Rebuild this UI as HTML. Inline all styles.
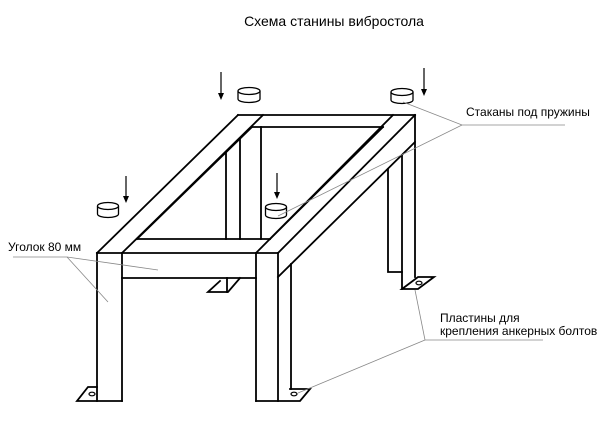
<!DOCTYPE html>
<html><head><meta charset="utf-8"><style>
html,body{margin:0;padding:0;background:#fff;}
svg{display:block;}
text{font-family:"Liberation Sans",Arial,sans-serif;fill:#000;}
</style></head><body>
<svg width="610" height="421" viewBox="0 0 610 421" xmlns="http://www.w3.org/2000/svg">
<text x="334" y="26" font-size="14" text-anchor="middle">Схема станины вибростола</text>

<g stroke="#000" stroke-width="1.8" fill="none" stroke-linecap="square">
<!-- top frame -->
<line x1="238" y1="115" x2="415" y2="115"/>
<line x1="252" y1="127" x2="383" y2="127"/>
<line x1="238" y1="115" x2="97" y2="253"/>
<line x1="263" y1="115" x2="122" y2="253"/>
<line x1="252" y1="127" x2="137" y2="239"/>
<line x1="415" y1="115" x2="278" y2="253"/>
<line x1="393" y1="115" x2="256" y2="253"/>
<line x1="383" y1="127" x2="270" y2="239"/>
<line x1="137" y1="239" x2="270" y2="239"/>
<line x1="97" y1="253" x2="278" y2="253"/>
<line x1="122" y1="278" x2="256" y2="278"/>
<polyline points="415,115 415,142 278,277"/>
<!-- front left post -->
<line x1="97" y1="253" x2="97" y2="401"/>
<line x1="122" y1="253" x2="122" y2="401"/>
<polyline points="97,387 88,387 77,401 122,401"/>
<!-- front right post -->
<line x1="256" y1="253" x2="256" y2="401"/>
<line x1="278" y1="253" x2="278" y2="401"/>
<line x1="291" y1="264" x2="291" y2="389"/>
<polyline points="256,401 300,401 310,389 290,389"/>
<!-- back right posts -->
<line x1="415" y1="142" x2="415" y2="277"/>
<line x1="402" y1="155" x2="402" y2="289"/>
<polyline points="388,169 388,272 402,272"/>
<polygon points="402,289 418,277 434,277 418,289"/>
<!-- back left post -->
<line x1="226" y1="152" x2="226" y2="239"/>
<line x1="240" y1="139" x2="240" y2="239"/>
<line x1="261" y1="127" x2="261" y2="239"/>
<line x1="227" y1="278" x2="227" y2="292"/>
<polyline points="240,278 228,292 208,292 220,281"/>
</g>
<g stroke="#000" stroke-width="1.2" fill="none">
<ellipse cx="92" cy="394" rx="3" ry="1.8"/>
<ellipse cx="294" cy="394" rx="3" ry="1.8"/>
<ellipse cx="419" cy="283" rx="3" ry="1.8"/>
</g>

<!-- cups -->
<g stroke="#000" stroke-width="1.3" fill="#fff">
<g transform="translate(249,91)"><path d="M-11,0 V8 A11,3.5 0 0 0 11,8 V0"/><ellipse cx="0" cy="0" rx="11" ry="3.5"/></g>
<g transform="translate(402,92)"><path d="M-11,0 V8 A11,3.5 0 0 0 11,8 V0"/><ellipse cx="0" cy="0" rx="11" ry="3.5"/></g>
<g transform="translate(108,206)"><path d="M-10.5,0 V8 A10.5,3.5 0 0 0 10.5,8 V0"/><ellipse cx="0" cy="0" rx="10.5" ry="3.5"/></g>
<g transform="translate(276,207)"><path d="M-10.5,0 V8 A10.5,3.5 0 0 0 10.5,8 V0"/><ellipse cx="0" cy="0" rx="10.5" ry="3.5"/></g>
</g>
<!-- arrows -->
<g stroke="#000" stroke-width="1.2">
<line x1="221" y1="72" x2="221" y2="94"/>
<line x1="424" y1="68" x2="424" y2="90"/>
<line x1="126" y1="176" x2="126" y2="197"/>
<line x1="277" y1="173" x2="277" y2="193"/>
</g>
<g fill="#000">
<polygon points="218,93 224,93 221,100"/>
<polygon points="421,89 427,89 424,96"/>
<polygon points="123,196 129,196 126,203"/>
<polygon points="274,192 280,192 277,199"/>
</g>

<!-- leaders -->
<g stroke="#888" stroke-width="0.8" fill="none">
<polyline points="403,102 462,125 565,125"/>
<line x1="462" y1="125" x2="278" y2="216"/>
<polyline points="13,257 67,257 158,270"/>
<line x1="67" y1="257" x2="108" y2="302"/>
<polyline points="415,290 425,340 543,340"/>
<line x1="425" y1="340" x2="298" y2="393"/>
</g>
<text x="466" y="116" font-size="12">Стаканы под пружины</text>
<text x="8" y="251" font-size="12">Уголок 80 мм</text>
<text x="440" y="322" font-size="12">Пластины для</text>
<text x="440" y="335" font-size="12">крепления анкерных болтов</text>
</svg>
</body></html>
